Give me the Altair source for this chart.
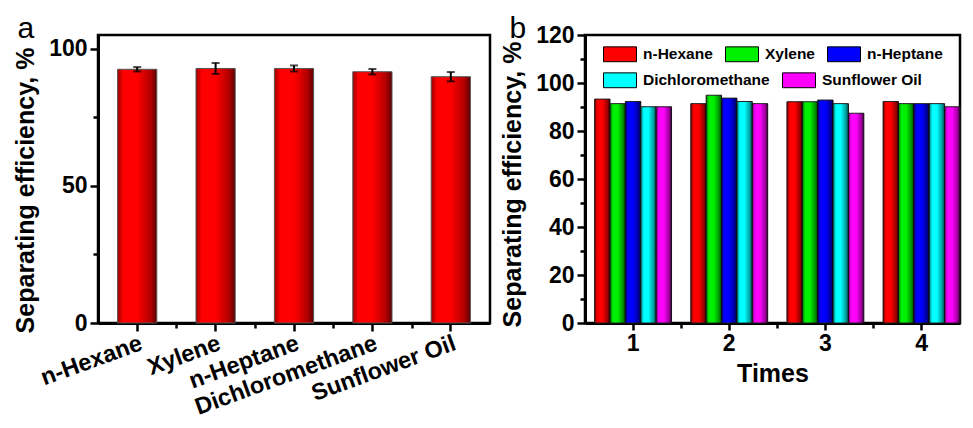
import altair as alt
import pandas as pd

FONT = "Liberation Sans, Arial, Helvetica, sans-serif"

# ---------------- data ----------------
solvents = ["n-Hexane", "Xylene", "n-Heptane", "Dichloromethane", "Sunflower Oil"]
eff_mean = [92.5, 92.8, 92.8, 91.6, 89.8]
eff_err = [0.8, 2.0, 1.1, 1.0, 1.7]

times = [1, 2, 3, 4]
hexane_b = [93.3, 91.4, 92.2, 92.3]
xylene_b = [91.4, 94.9, 92.2, 91.4]
heptane_b = [92.3, 93.7, 92.9, 91.4]
dcm_b = [90.1, 92.3, 91.4, 91.4]
oil_b = [90.1, 91.4, 87.4, 90.1]
colors_b = ["#ff0000", "#00f000", "#0000ff", "#00ffff", "#ff00ff"]

a_minor_x = [1, 2, 3, 4]
a_minor_y = [25, 75, 25, 75]
b_minor_x = [1, 2, 3, 1, 2, 3]
b_minor_y = [10, 30, 50, 70, 90, 110]

# ---------------- tables ----------------
df_a = pd.DataFrame({
    "solvent": solvents,
    "eff": eff_mean,
    "lo": [m - e for m, e in zip(eff_mean, eff_err)],
    "hi": [m + e for m, e in zip(eff_mean, eff_err)],
})
series_b = [hexane_b, xylene_b, heptane_b, dcm_b, oil_b]
df_b = pd.DataFrame([
    {"time": t, "series": s, "value": vals[i]}
    for s, vals in zip(solvents, series_b)
    for i, t in enumerate(times)
])
df_b2 = df_b[df_b["series"].isin(solvents[3:])].rename(columns={"series": "series2"})
df_minor_a = pd.DataFrame({"mx": a_minor_x, "my": a_minor_y})
df_minor_b = pd.DataFrame({"mx": b_minor_x, "my": b_minor_y})

red_grad = alt.LinearGradient(
    gradient="linear", x1=0, y1=0, x2=1, y2=0,
    stops=[
        alt.GradientStop(offset=0, color="#a00000"),
        alt.GradientStop(offset=0.15, color="#ff0000"),
        alt.GradientStop(offset=0.5, color="#ff0000"),
        alt.GradientStop(offset=0.85, color="#b00000"),
        alt.GradientStop(offset=1, color="#5a0000"),
    ],
)
shade_grad = alt.LinearGradient(
    gradient="linear", x1=0, y1=0, x2=1, y2=0,
    stops=[
        alt.GradientStop(offset=0, color="rgba(0,0,0,0.5)"),
        alt.GradientStop(offset=0.2, color="rgba(0,0,0,0)"),
        alt.GradientStop(offset=0.5, color="rgba(0,0,0,0)"),
        alt.GradientStop(offset=0.85, color="rgba(0,0,0,0.4)"),
        alt.GradientStop(offset=1, color="rgba(0,0,0,0.75)"),
    ],
)

def panel_letter_axis(letter, values, dx):
    # minor-tick axis that also carries the panel letter as its title
    return alt.Axis(orient="left", values=values, labels=False, domain=False, grid=False,
                    tickSize=5, title=letter, titleAngle=0, titleX=dx, titleY=2,
                    titleAlign="left", titleBaseline="alphabetic", titleFontSize=30,
                    titleFontWeight="normal")

# ---------------- panel a ----------------
sc_xa = alt.Scale(domain=solvents, paddingInner=0.5, paddingOuter=0.25)
sc_ya = alt.Scale(domain=[0, 105])
axis_xa = alt.Axis(title=None, labelAngle=340, labelAlign="right", labelBaseline="top",
                   labelFontSize=23.5, labelPadding=0, labelLimit=0, tickSize=8)
axis_ya = alt.Axis(values=[0, 50, 100], title="Separating efficiency, %",
                   titlePadding=10, titleY=155, tickSize=8, labelPadding=3)

def xa(axis=None):
    return alt.X("solvent:N", sort=solvents, scale=sc_xa, axis=axis)

bars_a = alt.Chart(df_a).mark_bar(fill=red_grad, stroke="#555555", strokeWidth=1).encode(
    x=xa(axis_xa), y=alt.Y("eff:Q", scale=sc_ya, axis=axis_ya))
err_a = alt.Chart(df_a).mark_rule(color="black", strokeWidth=2).encode(
    x=xa(), y=alt.Y("lo:Q", scale=sc_ya, axis=None), y2="hi:Q")
cap_lo = alt.Chart(df_a).mark_tick(color="black", thickness=2, size=8).encode(
    x=xa(), y=alt.Y("lo:Q", scale=sc_ya, axis=None))
cap_hi = alt.Chart(df_a).mark_tick(color="black", thickness=2, size=8).encode(
    x=xa(), y=alt.Y("hi:Q", scale=sc_ya, axis=None))
minor_a = alt.Chart(df_minor_a).mark_point(opacity=0).encode(
    x=alt.X("mx:Q", scale=alt.Scale(domain=[0, 5]),
            axis=alt.Axis(orient="bottom", values=a_minor_x, labels=False, domain=False,
                          grid=False, tickSize=5, title=None)),
    y=alt.Y("my:Q", scale=alt.Scale(domain=[0, 105]),
            axis=panel_letter_axis("a", [25, 75], -81)),
)

panel_a = alt.layer(bars_a, err_a, cap_lo, cap_hi, minor_a).resolve_scale(
    x="independent", y="independent"
).properties(width=392, height=288)

# ---------------- panel b ----------------
sc_xb = alt.Scale(domain=times, paddingInner=0.2, paddingOuter=0.05, align=1)
sc_yb = alt.Scale(domain=[0, 120])
axis_xb = alt.Axis(title="Times", labelAngle=0, tickSize=7, labelPadding=2, titlePadding=6)
axis_yb = alt.Axis(values=[0, 20, 40, 60, 80, 100, 120], title="Separating efficiency, %",
                   titlePadding=10, titleY=149, tickSize=8, labelPadding=3)
xoff = alt.XOffset("series:N", sort=solvents)

def leg(y):
    return alt.Legend(
        title=None, orient="none", legendX=18, legendY=y, direction="horizontal",
        symbolType="M-1,-0.45H1V0.45H-1Z", symbolSize=1089,
        symbolStrokeColor="black", symbolStrokeWidth=1, symbolOpacity=1,
        labelFontSize=15.5, labelFontWeight="bold", labelFont=FONT, labelColor="black",
        labelOffset=6, columnPadding=10, padding=0,
    )

bars_b = alt.Chart(df_b).mark_bar(stroke="#222222", strokeWidth=1).encode(
    x=alt.X("time:O", scale=sc_xb, axis=axis_xb), xOffset=xoff,
    y=alt.Y("value:Q", scale=sc_yb, axis=axis_yb),
    color=alt.Color("series:N", sort=solvents,
                    scale=alt.Scale(domain=solvents, range=colors_b),
                    legend=alt.Legend(values=solvents[:3], **leg(2).to_dict())),
)
shade_b = alt.Chart(df_b).mark_bar(fill=shade_grad, strokeWidth=0).encode(
    x=alt.X("time:O", scale=sc_xb, axis=None), xOffset=xoff,
    y=alt.Y("value:Q", scale=sc_yb, axis=None))
legend2_b = alt.Chart(df_b2).mark_point(opacity=0, filled=True).encode(
    x=alt.X("time:O", scale=sc_xb, axis=None),
    y=alt.Y("value:Q", scale=sc_yb, axis=None),
    fill=alt.Fill("series2:N", sort=solvents[3:],
                  scale=alt.Scale(domain=solvents[3:], range=colors_b[3:]),
                  legend=leg(28)),
)
minor_b = alt.Chart(df_minor_b).mark_point(opacity=0).encode(
    x=alt.X("mx:Q", scale=alt.Scale(domain=[0, 3.9]),
            axis=alt.Axis(orient="bottom", values=[1, 2, 3], labels=False, domain=False,
                          grid=False, tickSize=5, title=None)),
    y=alt.Y("my:Q", scale=alt.Scale(domain=[0, 120]),
            axis=panel_letter_axis("b", b_minor_y, -76)),
)

panel_b = alt.layer(bars_b, shade_b, legend2_b, minor_b).resolve_scale(
    x="independent", y="independent"
).properties(width=375, height=288)

chart = alt.hconcat(panel_a, panel_b, spacing=7).resolve_legend(
    color="independent", fill="independent"
).properties(
    padding={"left": 4, "top": 3, "right": 0, "bottom": 0},
).configure(font=FONT).configure_view(
    stroke="black", strokeWidth=2.5,
).configure_axis(
    labelFont=FONT, titleFont=FONT, labelColor="black", titleColor="black",
    labelFontSize=23, titleFontSize=25, labelFontWeight="bold", titleFontWeight="bold",
    domainColor="black", domainWidth=3, tickColor="black", tickWidth=2.5, grid=False,
)

chart.save("out.html", embed_options={"renderer": "svg", "actions": False})
